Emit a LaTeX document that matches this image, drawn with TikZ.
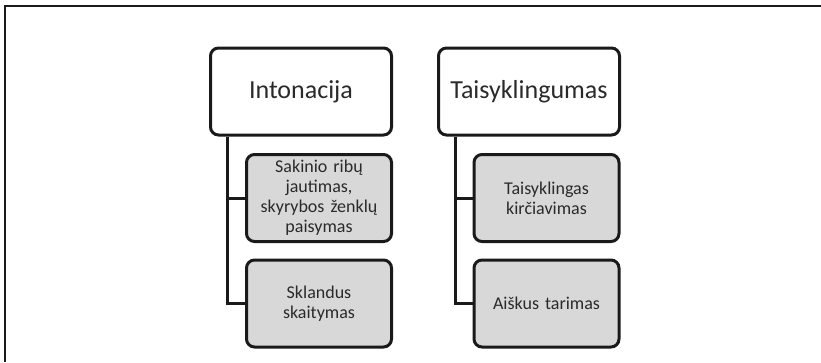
\documentclass[tikz,border=0pt]{standalone}
\usepackage{fontspec}
\setmainfont{Carlito}
\definecolor{boxline}{HTML}{1A1A1A}
\definecolor{boxtext}{HTML}{2A2A2A}
\definecolor{subfill}{HTML}{D8D8D8}
\begin{document}
\begin{tikzpicture}[x=1pt,y=-1pt,
  topbox/.style={draw=boxline, line width=3pt, rounded corners=8pt, fill=white,
    minimum width=181pt, minimum height=87pt, inner sep=0pt,
    text=boxtext, font=\fontsize{26}{30}\selectfont},
  subbox/.style={draw=boxline, line width=3pt, rounded corners=8pt, fill=subfill,
    minimum width=145pt, minimum height=87pt, inner sep=0pt,
    text=boxtext, align=center, text width=138pt,
    font=\fontsize{18}{20}\selectfont},
  link/.style={draw=boxline, line width=3pt}]
  \useasboundingbox (0,0) rectangle (821,362);
  % page frame
  \draw[line width=2pt, boxline] (5,362) -- (5,6) -- (821,6);

  % left column
  \node[topbox] (int) at (301,91.5) {Intonacija};
  \node[subbox] (int1) at (319,198) {Sakinio ribų\\jautimas,\\skyrybos ženklų\\paisymas};
  \node[subbox] (int2) at (319,303.5) {Sklandus\\skaitymas};

  % right column
  \node[topbox] (tai) at (529,91.5) {Taisyklingumas};
  \node[subbox] (tai1) at (546.5,198) {Taisyklingas\\kirčiavimas};
  \node[subbox] (tai2) at (546.5,303.5) {Aiškus tarimas};

  % connectors
  \draw[link] ([xshift=18.5pt]int.south west) |- (int1.west);
  \draw[link] ([xshift=18.5pt]int.south west) |- (int2.west);
  \draw[link] ([xshift=18.5pt]tai.south west) |- (tai1.west);
  \draw[link] ([xshift=18.5pt]tai.south west) |- (tai2.west);
\end{tikzpicture}
\end{document}
